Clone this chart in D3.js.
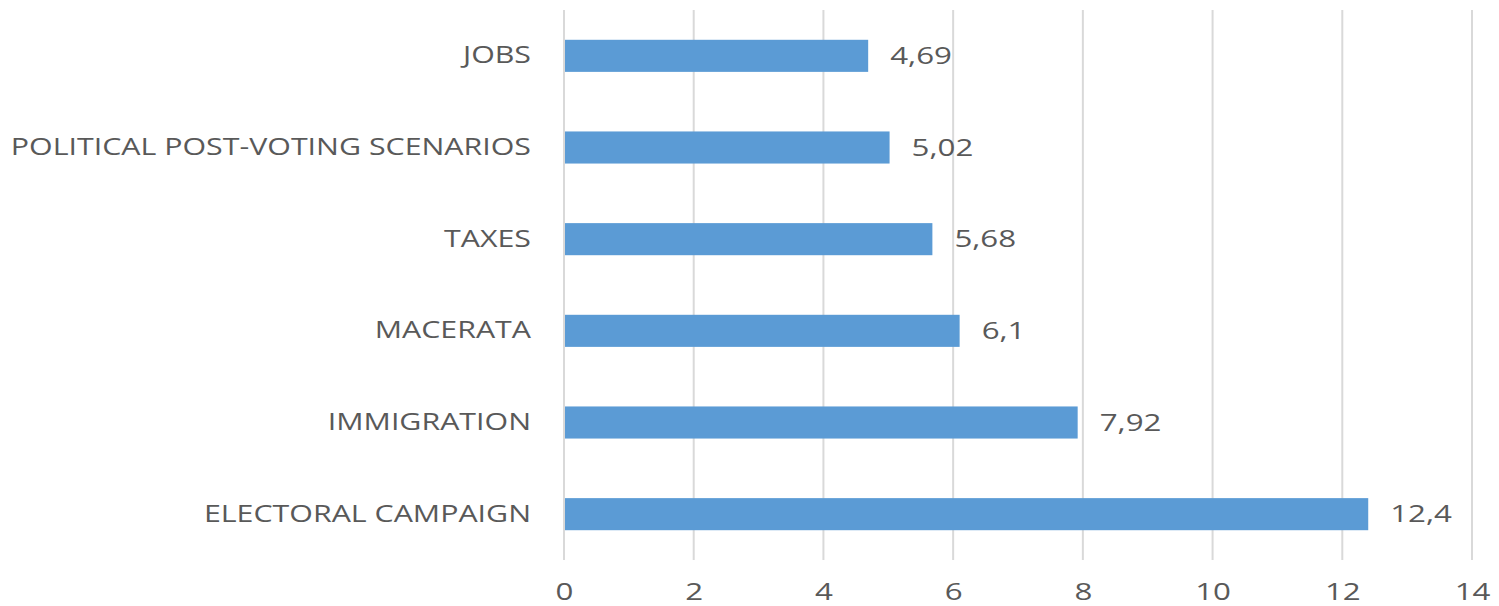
<!DOCTYPE html>
<html>
<head>
<meta charset="utf-8">
<script src="https://cdn.jsdelivr.net/npm/d3@7"></script>
<style>
  body { margin: 0; background: #fff; }
  svg { display: block; }
</style>
</head>
<body>
<svg id="chart" width="1499" height="606"></svg>
<script>
var categories = ["JOBS", "POLITICAL POST-VOTING SCENARIOS", "TAXES", "MACERATA", "IMMIGRATION", "ELECTORAL CAMPAIGN"];
var values = [4.69, 5.02, 5.68, 6.1, 7.92, 12.4];
var valueLabels = ["4,69", "5,02", "5,68", "6,1", "7,92", "12,4"];
var xTicks = [0, 2, 4, 6, 8, 10, 12, 14];

var svg = d3.select("svg#chart");
var textColor = "#595959";
var fontFamily = "'Open Sans', sans-serif";
// the reference text is drawn a bit stretched sideways
var stretch = 1.36;

var plotLeft = 564, plotRight = 1472, plotTop = 10, plotBottom = 560;

var x = d3.scaleLinear().domain([0, 14]).range([plotLeft, plotRight]);
var y = d3.scaleBand().domain(categories).range([plotTop, plotBottom])
  .paddingInner(0.65).paddingOuter(0.325);

// gridlines
svg.selectAll("line.grid")
  .data(xTicks)
  .enter().append("line")
  .attr("class", "grid")
  .attr("x1", d => x(d)).attr("x2", d => x(d))
  .attr("y1", plotTop).attr("y2", plotBottom)
  .attr("stroke", "#d9d9d9")
  .attr("stroke-width", 2);

// x axis labels
var xAxis = d3.axisBottom(x).tickValues(xTicks).tickSize(0).tickPadding(0);
var gx = svg.append("g")
  .attr("transform", "translate(0,600)")
  .call(xAxis);
gx.select(".domain").remove();
gx.selectAll("text")
  .attr("dy", 0)
  .attr("transform", "scale(" + stretch + ",1)")
  .attr("fill", textColor)
  .style("font-family", fontFamily)
  .style("font-size", "23px");

// bars
svg.selectAll("rect.bar")
  .data(categories)
  .enter().append("rect")
  .attr("class", "bar")
  .attr("x", x(0) + 1)
  .attr("y", d => y(d))
  .attr("width", (d, i) => x(values[i]) - x(0) - 1)
  .attr("height", y.bandwidth())
  .attr("fill", "#5b9bd5");

// value labels
svg.selectAll("text.value")
  .data(categories)
  .enter().append("text")
  .attr("class", "value")
  .attr("transform", (d, i) => "translate(" + (x(values[i]) + 22) + "," + (y(d) + y.bandwidth() / 2 + 2) + ") scale(" + stretch + ",1)")
  .attr("dominant-baseline", "middle")
  .attr("fill", textColor)
  .style("font-family", fontFamily)
  .style("font-size", "23px")
  .text((d, i) => valueLabels[i]);

// category labels
var yAxis = d3.axisLeft(y).tickSize(0).tickPadding(0);
var gy = svg.append("g")
  .attr("transform", "translate(" + (plotLeft - 33) + ",0)")
  .call(yAxis);
gy.select(".domain").remove();
gy.selectAll("text")
  .attr("x", 0)
  .attr("transform", "scale(1.32,1)")
  .attr("fill", textColor)
  .style("font-family", fontFamily)
  .style("font-size", "23px");
</script>
</body>
</html>
